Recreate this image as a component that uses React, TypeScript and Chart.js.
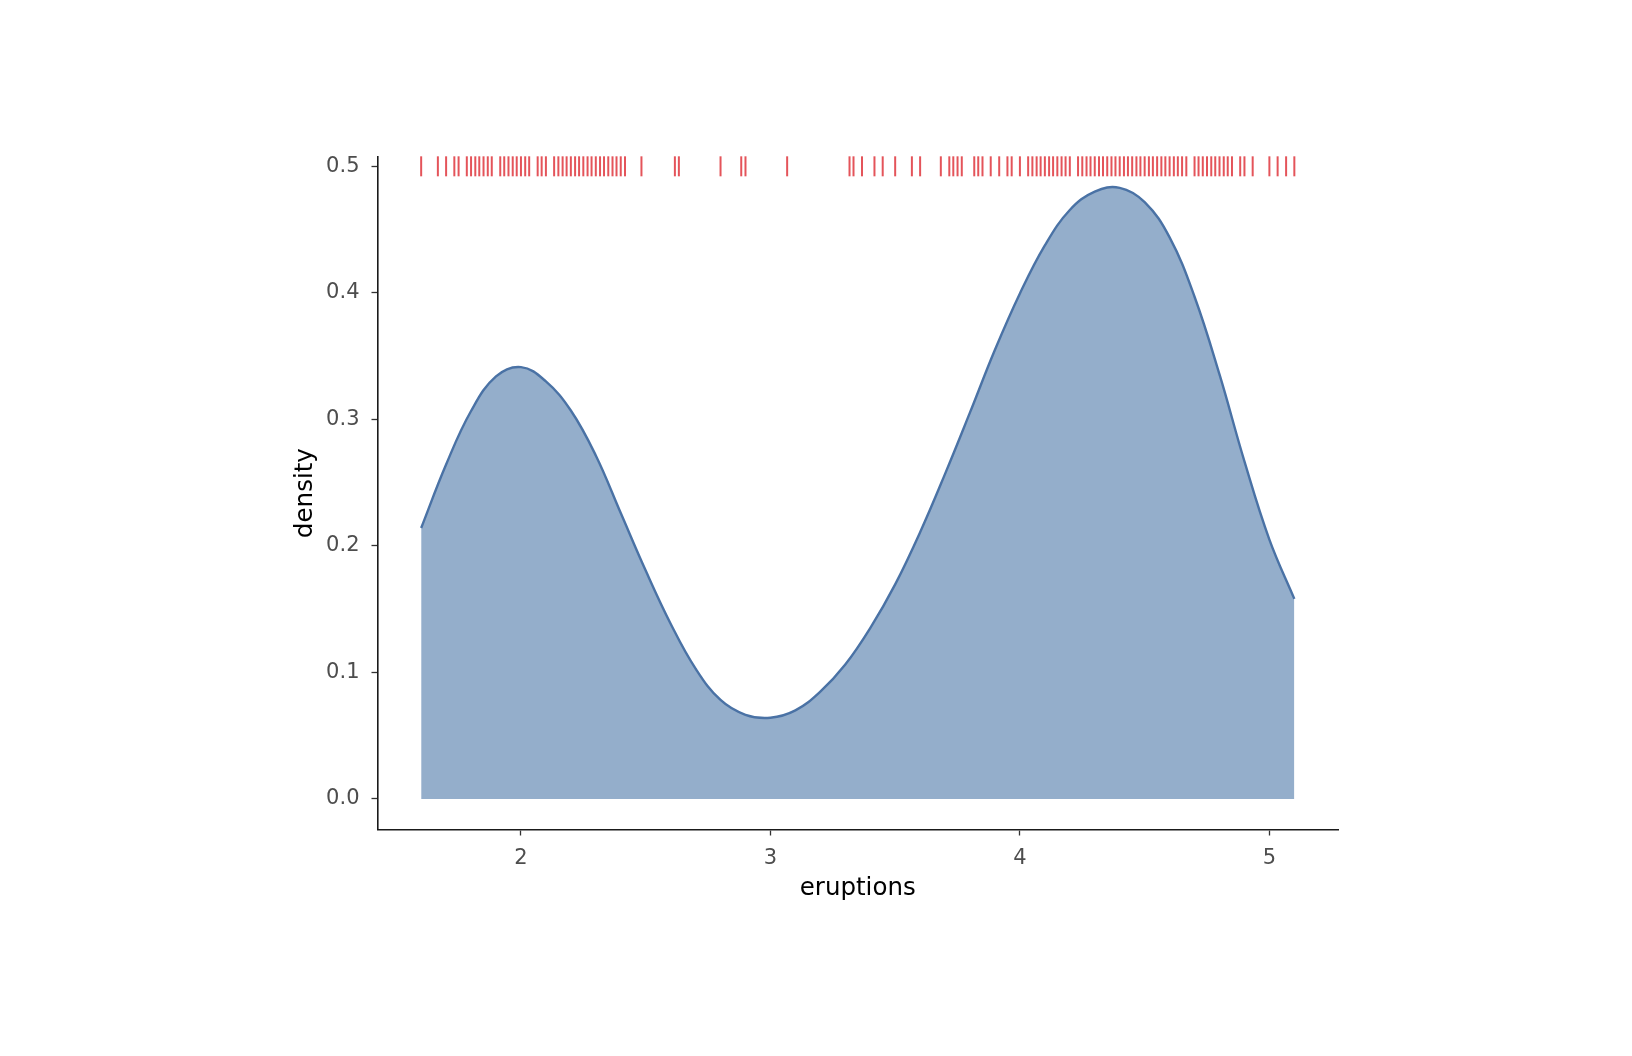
import React, { useEffect, useRef } from "react";
import { Chart, registerables } from "chart.js";

Chart.register(...registerables);

// Density curve (eruptions vs density)
const densityX = [1.6, 1.7, 1.8, 1.9, 2.0, 2.1, 2.2, 2.3, 2.4, 2.5, 2.6, 2.7, 2.8, 2.9, 3.0, 3.1, 3.2, 3.3, 3.4, 3.5, 3.6, 3.7, 3.8, 3.9, 4.0, 4.1, 4.2, 4.3, 4.4, 4.5, 4.6, 4.7, 4.8, 4.9, 5.0, 5.1];
const densityY = [0.2141, 0.2643, 0.3066, 0.3339, 0.3413, 0.33, 0.307, 0.2715, 0.226, 0.1805, 0.1385, 0.103, 0.0782, 0.0665, 0.0642, 0.07, 0.0848, 0.1062, 0.135, 0.1696, 0.2108, 0.2569, 0.3055, 0.355, 0.3995, 0.4375, 0.4655, 0.48, 0.483, 0.4717, 0.4438, 0.3969, 0.3355, 0.2668, 0.205, 0.1581];

// Rug marks (distinct eruption durations)
const rugX = [1.6, 1.667, 1.7, 1.733, 1.75, 1.783, 1.8, 1.817, 1.833, 1.85, 1.867, 1.883, 1.917, 1.933, 1.95, 1.967, 1.983, 2.0, 2.017, 2.033, 2.067, 2.083, 2.1, 2.133, 2.15, 2.167, 2.183, 2.2, 2.217, 2.233, 2.25, 2.267, 2.283, 2.3, 2.317, 2.333, 2.35, 2.367, 2.383, 2.4, 2.417, 2.483, 2.617, 2.633, 2.8, 2.883, 2.9, 3.067, 3.317, 3.333, 3.367, 3.417, 3.45, 3.5, 3.567, 3.6, 3.683, 3.717, 3.733, 3.75, 3.767, 3.817, 3.833, 3.85, 3.883, 3.917, 3.95, 3.967, 4.0, 4.033, 4.05, 4.067, 4.083, 4.1, 4.117, 4.133, 4.15, 4.167, 4.183, 4.2, 4.233, 4.25, 4.267, 4.283, 4.3, 4.317, 4.333, 4.35, 4.367, 4.383, 4.4, 4.417, 4.433, 4.45, 4.467, 4.483, 4.5, 4.517, 4.533, 4.55, 4.567, 4.583, 4.6, 4.617, 4.633, 4.65, 4.667, 4.7, 4.716, 4.733, 4.75, 4.767, 4.783, 4.8, 4.817, 4.833, 4.85, 4.883, 4.9, 4.933, 5.0, 5.033, 5.067, 5.1];
const rugLevel = 0.5;

const xTicks = [2, 3, 4, 5];
const yTicks = [0, 0.1, 0.2, 0.3, 0.4, 0.5];
const xTitle = "eruptions";
const yTitle = "density";

const FONT = "'DejaVu Sans', sans-serif";

export default function App() {
  const ref = useRef<HTMLCanvasElement | null>(null);

  useEffect(() => {
    if (!ref.current) return;
    const chart = new Chart(ref.current, {
      type: "line",
      data: {
        datasets: [
          {
            type: "line",
            data: densityX.map((x, i) => ({ x, y: densityY[i] })),
            borderColor: "#4A72A5",
            backgroundColor: "#94AECB",
            borderWidth: 2.4,
            fill: "origin",
            pointRadius: 0,
            tension: 0.4,
            order: 2,
          },
          {
            type: "scatter",
            data: rugX.map((x) => ({ x, y: rugLevel })),
            pointStyle: "line",
            rotation: 90,
            radius: 10,
            borderWidth: 2,
            borderColor: "#E4545A",
            backgroundColor: "#E4545A",
            clip: false,
            order: 1,
          } as any,
        ],
      },
      options: {
        responsive: false,
        animation: false,
        events: [],
        layout: { padding: { left: 0, top: 156.7, right: 294, bottom: 126.5 } },
        plugins: { legend: { display: false }, tooltip: { enabled: false } },
        scales: {
          x: {
            type: "linear",
            min: 1.425,
            max: 5.275,
            afterFit: (s: any) => {
              s.height = 100;
            },
            afterBuildTicks: (s: any) => {
              s.ticks = xTicks.map((v) => ({ value: v }));
            },
            grid: { display: true, drawOnChartArea: false, drawTicks: true, tickLength: 6, tickColor: "#333333", tickWidth: 1.3 },
            border: { display: true, color: "#1a1a1a", width: 1.6 },
            ticks: { color: "#4d4d4d", font: { family: FONT, size: 21 }, padding: 10, maxRotation: 0 },
            title: { display: true, text: xTitle, color: "#000000", font: { family: FONT, size: 24.5 }, padding: { top: 0, bottom: 26 } },
          },
          y: {
            type: "linear",
            min: -0.02417,
            max: 0.5076,
            afterFit: (s: any) => {
              s.width = 377.5;
            },
            afterBuildTicks: (s: any) => {
              s.ticks = yTicks.map((v) => ({ value: v }));
            },
            grid: { display: true, drawOnChartArea: false, drawTicks: true, tickLength: 6, tickColor: "#333333", tickWidth: 1.3 },
            border: { display: true, color: "#1a1a1a", width: 1.6 },
            ticks: {
              color: "#4d4d4d",
              font: { family: FONT, size: 21 },
              padding: 12,
              callback: (v: any) => Number(v).toFixed(1),
            },
            title: { display: true, text: yTitle, color: "#000000", font: { family: FONT, size: 24.5 }, padding: { top: 291, bottom: 0 } },
          },
        },
      },
    });
    return () => chart.destroy();
  }, []);

  return (
    <div style={{ position: "fixed", left: 0, top: 0, width: 1632, height: 1056, background: "#ffffff" }}>
      <canvas ref={ref} width={1632} height={1056} style={{ width: 1632, height: 1056, display: "block" }} />
    </div>
  );
}
